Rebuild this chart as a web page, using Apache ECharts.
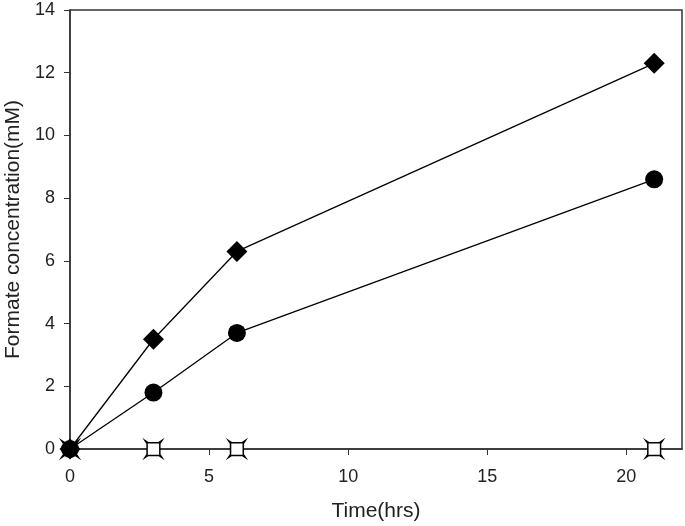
<!DOCTYPE html>
<html><head><meta charset="utf-8">
<script src="https://cdn.jsdelivr.net/npm/echarts@6/dist/echarts.min.js"></script>
<style>html,body{margin:0;padding:0;background:#fff}#c{width:685px;height:526px}</style>
</head><body><div id="c"></div>
<script>
const timeHrs = [0, 3, 6, 21];
const diamondSeries = [0, 3.5, 6.3, 12.3];
const circleSeries = [0, 1.8, 3.7, 8.6];
const controlSeries = [0, 0, 0, 0];
const xTicks = [0, 5, 10, 15, 20];
const yTicks = [0, 2, 4, 6, 8, 10, 12, 14];

const pair = (ys) => timeHrs.map((t, i) => [t, ys[i]]);
const font = 'Liberation Sans, Arial, sans-serif';
const chart = echarts.init(document.getElementById('c'), null, {renderer: 'canvas'});
chart.setOption({
  animation: false,
  grid: {left: 70, right: 3, top: 10, bottom: 77, containLabel: false, outerBoundsMode: 'none',
    show: true, borderColor: '#333', borderWidth: 1.5, backgroundColor: 'transparent'},
  xAxis: {
    type: 'value', min: 0, max: 22, interval: 5,
    name: 'Time(hrs)', nameLocation: 'middle', nameGap: 52,
    nameTextStyle: {fontFamily: font, fontSize: 21, color: '#222'},
    axisLine: {show: true, onZero: false, lineStyle: {color: '#333', width: 1.5}},
    axisTick: {show: true, inside: false, length: 6, lineStyle: {color: '#333'}},
    axisLabel: {fontFamily: font, fontSize: 18, color: '#222', margin: 19, showMaxLabel: false,
      formatter: v => xTicks.includes(v) ? String(v) : ''},
    splitLine: {show: false}
  },
  yAxis: {
    type: 'value', min: 0, max: 14, interval: 2,
    name: 'Formate concentration(mM)', nameLocation: 'middle', nameGap: 37,
    nameTextStyle: {fontFamily: font, fontSize: 21, color: '#222'},
    axisLine: {show: true, lineStyle: {color: '#333', width: 1.5}},
    axisTick: {show: true, inside: false, length: 6, lineStyle: {color: '#333'}},
    axisLabel: {fontFamily: font, fontSize: 18, color: '#222', margin: 15,
      formatter: v => yTicks.includes(v) ? String(v) : ''},
    splitLine: {show: false}
  },
  series: [
    {type: 'line', data: pair(controlSeries),
      symbol: 'path://M0 0L3 2L13 2L16 0L14 3L14 13L16 16L13 14L3 14L0 16L2 13L2 3Z',
      symbolSize: 17, showAllSymbol: true, lineStyle: {width: 0, opacity: 0},
      itemStyle: {color: '#fff', borderColor: '#000', borderWidth: 1.5}, z: 2},
    {type: 'line', data: pair(circleSeries), symbol: 'circle', symbolSize: 18,
      lineStyle: {color: '#000', width: 1.3}, itemStyle: {color: '#000'}, z: 3},
    {type: 'line', data: pair(diamondSeries), symbol: 'diamond', symbolSize: [21, 21],
      lineStyle: {color: '#000', width: 1.3}, itemStyle: {color: '#000'}, z: 4}
  ]
});
</script></body></html>
